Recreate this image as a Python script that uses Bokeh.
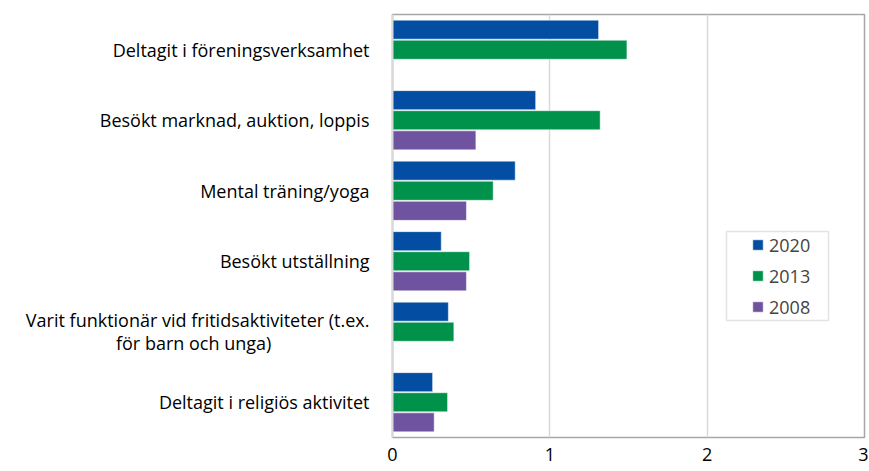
from bokeh.plotting import figure
from bokeh.models import (ColumnDataSource, Range1d, FactorRange, FixedTicker,
                          Legend, LegendItem, BoxAnnotation)
from bokeh.transform import dodge
from bokeh.embed import file_html
from bokeh.resources import INLINE

categories = [
    "Deltagit i föreningsverksamhet",
    "Besökt marknad, auktion, loppis",
    "Mental träning/yoga",
    "Besökt utställning",
    "Varit funktionär vid fritidsaktiviteter (t.ex.\nför barn och unga)",
    "Deltagit i religiös aktivitet",
]
years = ["2020", "2013", "2008"]
values_2020 = [1.31, 0.91, 0.78, 0.31, 0.355, 0.255]
values_2013 = [1.49, 1.32, 0.64, 0.49, 0.39, 0.35]
values_2008 = [None, 0.53, 0.47, 0.47, None, 0.265]
x_ticks = [0, 1, 2, 3]

colors = ["#034EA2", "#00914A", "#6F52A0"]
offsets = [0.285, 0.0, -0.285]
FONT = "Open Sans"
LINE2_PAD = 21  # non-breaking spaces so the 2nd line of a wrapped label looks centred


def display_label(label):
    lines = label.split("\n")
    if len(lines) == 1:
        return label
    return lines[0] + "\n" + lines[1] + "\u00a0" * LINE2_PAD


shown = [display_label(c) for c in categories]

W, H = 868, 470
p = figure(width=W, height=H,
           y_range=FactorRange(*reversed(shown), range_padding=0),
           x_range=Range1d(0, 3),
           output_backend="svg", toolbar_location=None)
p.min_border = 0
p.min_border_left = 392
p.min_border_right = W - 864
p.min_border_top = 14
p.min_border_bottom = H - 437
p.outline_line_color = "#A6A6A6"
p.outline_line_width = 1.5
p.background_fill_color = "white"
p.border_fill_color = "white"

p.xgrid.grid_line_color = "#D9D9D9"
p.xgrid.grid_line_width = 1.5
p.ygrid.grid_line_color = None

items = []
for yr, vals, col, off in zip(years, [values_2020, values_2013, values_2008], colors, offsets):
    cats = [s for s, v in zip(shown, vals) if v is not None]
    vv = [v for v in vals if v is not None]
    src = ColumnDataSource(dict(cat=cats, val=vv))
    r = p.hbar(y=dodge("cat", off, range=p.y_range), right="val", left=0, height=0.27,
               source=src, fill_color=col, line_color="white", line_width=1, line_alpha=0.5)
    items.append(LegendItem(label=yr, renderers=[r]))

yaxis = p.yaxis[0]
yaxis.axis_line_color = "#D9D9D9"
yaxis.axis_line_width = 2
yaxis.major_tick_line_color = None
yaxis.minor_tick_line_color = None
yaxis.major_label_standoff = 17
yaxis.major_label_text_font = FONT
yaxis.major_label_text_font_size = "18px"
yaxis.major_label_text_color = "#000000"
yaxis.major_label_text_line_height = 0.95

xaxis = p.xaxis[0]
xaxis.ticker = FixedTicker(ticks=x_ticks)
xaxis.axis_line_color = None
xaxis.major_tick_line_color = None
xaxis.minor_tick_line_color = None
xaxis.major_tick_out = 0
xaxis.major_tick_in = 0
xaxis.major_label_standoff = 10
xaxis.major_label_text_font = FONT
xaxis.major_label_text_font_size = "18px"
xaxis.major_label_text_color = "#000000"

legend = Legend(items=items, location=(359, 118), padding=0, margin=0, spacing=6,
                glyph_width=13, glyph_height=13, label_height=25, label_standoff=5,
                label_text_font=FONT, label_text_font_size="18px",
                border_line_alpha=0, background_fill_alpha=0)
p.add_layout(legend)

box = BoxAnnotation(left=726, right=828, top=231, bottom=320,
                    left_units="canvas", right_units="canvas",
                    top_units="canvas", bottom_units="canvas",
                    fill_alpha=0, fill_color=None, line_color="#A6A6A6", line_width=1.5)
p.add_layout(box)

open("out.html", "w").write(file_html(p, INLINE))
